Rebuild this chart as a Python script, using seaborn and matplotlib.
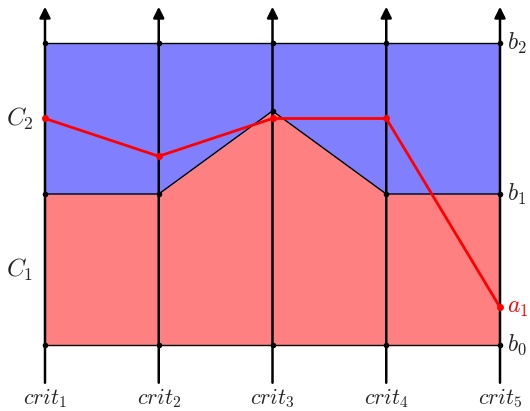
import numpy as np
import pandas as pd
import seaborn as sns
import matplotlib.pyplot as plt

# criteria and profiles
crit_labels = ['$crit_1$', '$crit_2$', '$crit_3$', '$crit_4$', '$crit_5$']
crit_pos = [0, 1, 2, 3, 4]
b0 = [0, 0, 0, 0, 0]
b1 = [1, 1, 1.55, 1, 1]
b2 = [2, 2, 2, 2, 2]
a1 = [1.5, 1.25, 1.5, 1.5, 0.25]
class_labels = ['$C_1$', '$C_2$']
class_levels = [0.5, 1.5]

sns.set_theme(style='white')
plt.rcParams['mathtext.fontset'] = 'cm'

fig = plt.figure(figsize=(5.3, 4.11), dpi=100)
ax = fig.add_axes([0, 0, 1, 1])

# class areas
ax.fill_between(crit_pos, b0, b1, color='#ff8080', lw=0, zorder=1)
ax.fill_between(crit_pos, b1, b2, color='#8080ff', lw=0, zorder=1)

# profile boundaries
for prof in [b0, b1, b2]:
    sns.lineplot(x=crit_pos, y=prof, ax=ax, color='black', lw=1,
                 marker='o', markersize=4, markeredgewidth=0, zorder=2)

# criteria axes with arrows
for x in crit_pos:
    ax.annotate('', xy=(x, 2.24), xytext=(x, -0.25),
                arrowprops=dict(arrowstyle='-|>', lw=1.8, color='black',
                                mutation_scale=16, shrinkA=0, shrinkB=0),
                zorder=3)
    ax.text(x, -0.355, crit_labels[x], ha='center', va='center', fontsize=16)

# alternative
sns.lineplot(x=crit_pos, y=a1, ax=ax, color='red', lw=2,
             marker='o', markersize=5, markeredgewidth=0, zorder=4)

# labels
for lab, lev in zip(class_labels, class_levels):
    ax.text(-0.1, lev, lab, ha='right', va='center', fontsize=18)
for lab, lev in zip(['$b_0$', '$b_1$', '$b_2$'], [0, 1, 2]):
    ax.text(4.065, lev, lab, ha='left', va='center', fontsize=17)
ax.text(4.065, a1[-1], '$a_1$', ha='left', va='center', fontsize=17, color='red')

ax.set_xlim(-45 / 113.75, 4 + 30 / 113.75)
ax.set_ylim(-66 / 151, 345 / 151)
ax.axis('off')

fig.savefig('out.png', dpi=100)
